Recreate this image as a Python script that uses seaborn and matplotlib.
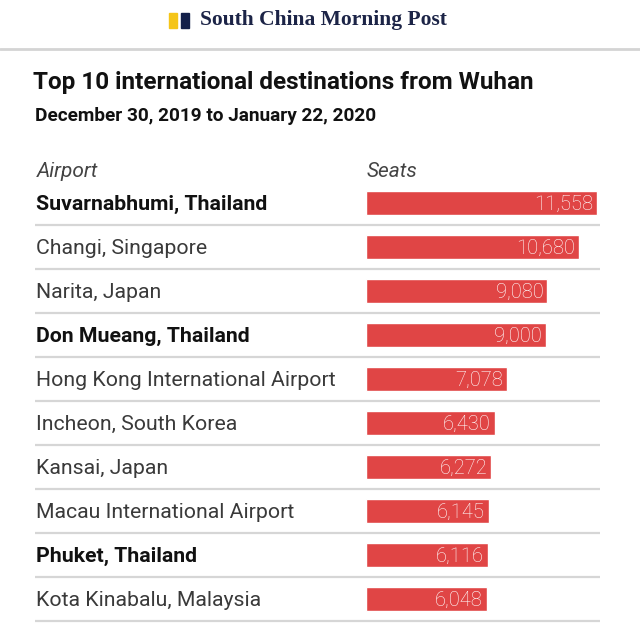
import matplotlib
matplotlib.use("Agg")
import matplotlib.pyplot as plt
import matplotlib.transforms as mtransforms
from matplotlib.patches import Rectangle
import seaborn as sns
import pandas as pd

airports = [
    "Suvarnabhumi, Thailand",
    "Changi, Singapore",
    "Narita, Japan",
    "Don Mueang, Thailand",
    "Hong Kong International Airport",
    "Incheon, South Korea",
    "Kansai, Japan",
    "Macau International Airport",
    "Phuket, Thailand",
    "Kota Kinabalu, Malaysia",
]
seats = [11558, 10680, 9080, 9000, 7078, 6430, 6272, 6145, 6116, 6048]
bold_rows = ["Suvarnabhumi, Thailand", "Don Mueang, Thailand", "Phuket, Thailand"]
title = "Top 10 international destinations from Wuhan"
subtitle = "December 30, 2019 to January 22, 2020"
brand = "South China Morning Post"

df = pd.DataFrame({"Airport": airports, "Seats": seats})

sns.set_theme(style="white")
plt.rcParams["font.family"] = ["Roboto", "DejaVu Sans"]

W, H = 640, 636
fig = plt.figure(figsize=(6.4, 6.36), dpi=100)
fig.patch.set_facecolor("white")


def fx(px):
    return px / W


def fy(py):
    return 1 - py / H


top_px, bot_px = 181, 621
ax = fig.add_axes([0, fy(bot_px), 1, (bot_px - top_px) / H])
s = 231 / 11558.0  # px per seat
x0_px = 366
ax.set_xlim(-x0_px / s, (W - x0_px) / s)

sns.barplot(data=df, x="Seats", y="Airport", orient="h", color="#e04545",
            width=0.55, ax=ax, saturation=1)
ax.set_ylim(len(airports) - 0.5, -0.5)
ax.axis("off")

blend = mtransforms.blended_transform_factory(fig.transFigure, ax.transData)
row_px = (bot_px - top_px) / len(airports)
dy = 1.5 / row_px

for i in range(len(airports)):
    ax.plot([fx(35), fx(600)], [i + 0.5, i + 0.5], transform=blend,
            color="#d6d6d6", lw=1.6, clip_on=False, solid_capstyle="butt")

for i, (name, val) in enumerate(zip(airports, seats)):
    is_bold = name in bold_rows
    ax.text(fx(36), i + dy, name, transform=blend, ha="left", va="center",
            fontsize=15.3, fontweight="bold" if is_bold else "normal",
            color="#111111" if is_bold else "#3a3a3a")
    ax.text(val - 4 / s, i + dy, f"{val:,}", ha="right", va="center",
            fontsize=14.5, fontweight="light", color="white")

fig.text(fx(37), fy(172), "Airport", ha="left", va="center", fontsize=15,
         fontstyle="italic", fontweight="normal", color="#444444")
fig.text(fx(367), fy(172), "Seats", ha="left", va="center", fontsize=15,
         fontstyle="italic", fontweight="normal", color="#444444")

fig.text(fx(33), fy(83), title, ha="left", va="center", fontsize=17.5,
         fontweight="bold", color="#111111")
fig.text(fx(35), fy(116), subtitle, ha="left", va="center", fontsize=13.7,
         fontweight="bold", color="#111111")

fig.patches.append(Rectangle((fx(169), fy(28)), fx(8), 15 / H,
                             transform=fig.transFigure, color="#f5c518"))
fig.patches.append(Rectangle((fx(181), fy(28)), fx(8), 15 / H,
                             transform=fig.transFigure, color="#13204a"))
fig.text(fx(200), fy(20), brand, ha="left", va="center", fontsize=15.5,
         fontweight="bold", color="#1c2447",
         family=["Liberation Serif", "DejaVu Serif"])
fig.add_artist(plt.Line2D([0, 1], [fy(48.5), fy(48.5)], transform=fig.transFigure,
                          color="#d4d4d4", lw=2))

fig.savefig("out.png", dpi=100, facecolor="white")
